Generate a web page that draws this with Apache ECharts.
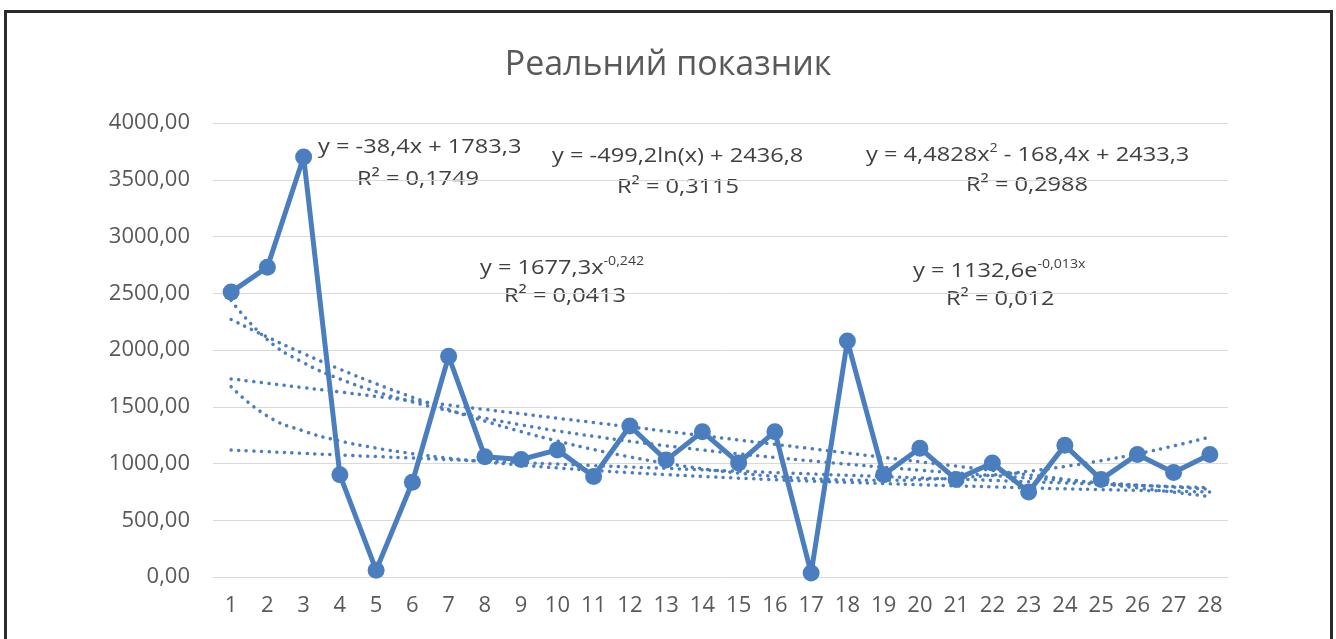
<!DOCTYPE html>
<html>
<head>
<meta charset="utf-8">
<script src="https://cdn.jsdelivr.net/npm/echarts@6/dist/echarts.min.js"></script>
<style>
  html, body { margin: 0; padding: 0; background: #fff; }
  #frame { position: absolute; left: 4px; top: 10px; width: 1323px; height: 640px;
           border-left: 3px solid #2b2b2b; border-top: 3px solid #2b2b2b; border-right: 3px solid #2b2b2b; }
  #chart { position: absolute; left: 0; top: 0; width: 1336px; height: 639px; }
</style>
</head>
<body>
<div id="frame"></div>
<div id="chart"></div>
<script>
const categories = ['1','2','3','4','5','6','7','8','9','10','11','12','13','14','15','16','17','18','19','20','21','22','23','24','25','26','27','28']
const realValues = [2510, 2730, 3700, 900, 60, 835, 1945, 1060, 1035, 1120, 885, 1330, 1030, 1280, 1005, 1280, 35, 2080, 900, 1135, 860, 1005, 750, 1160, 860, 1080, 920, 1080]

// trendline values read at each category (Excel trendlines)
const trendLinear = [1745, 1707, 1668, 1630, 1591, 1553, 1515, 1476, 1438, 1399, 1361, 1323, 1284, 1246, 1207, 1169, 1131, 1092, 1054, 1015, 977, 939, 900, 862, 823, 785, 747, 708]
const trendLog = [2437, 2091, 1888, 1745, 1633, 1542, 1465, 1399, 1340, 1287, 1240, 1196, 1156, 1119, 1085, 1053, 1023, 994, 967, 941, 917, 894, 872, 850, 830, 810, 792, 773]
const trendPower = [1677, 1418, 1286, 1199, 1136, 1087, 1047, 1014, 986, 961, 939, 919, 902, 886, 871, 857, 845, 834, 823, 812, 803, 794, 785, 777, 770, 763, 756, 749]
const trendExp = [1118, 1104, 1089, 1075, 1061, 1048, 1034, 1021, 1008, 995, 982, 969, 957, 944, 932, 920, 908, 896, 885, 873, 862, 851, 840, 829, 818, 808, 797, 787]
const trendPoly = [2269, 2114, 1968, 1831, 1703, 1584, 1474, 1373, 1281, 1198, 1123, 1058, 1002, 954, 916, 887, 866, 855, 852, 858, 874, 898, 932, 974, 1025, 1085, 1155, 1233]

const yMin = 0
const yMax = 4000
const yStep = 500

const blue = '#4a7ebe'
const textColor = '#595959'
const font = '"Open Sans", "Noto Sans", sans-serif'

const chart = echarts.init(document.getElementById('chart'))

const trend = (name, data) => ({
    name: name,
    type: 'line',
    data: data,
    smooth: true,
    symbol: 'none',
    z: 3,
    lineStyle: { color: blue, width: 3.5, type: [0.1, 7.5], cap: 'round' },
    silent: true
})

const eqStyle = { fontSize: 20, fontFamily: font, fill: '#404040' }
const supRich = { sup: { fontSize: 12, fontFamily: font, fill: '#404040', verticalAlign: 'top', padding: [0, 0, 12, 0] } }

// equation boxes, stretched a bit like the original text
const label = (x, y, text) => ({
    type: 'text',
    x: x,
    y: y,
    scaleX: 1.18,
    style: Object.assign({ text: text, rich: supRich }, eqStyle)
})

const option = {
    animation: false,
    backgroundColor: 'transparent',
    title: {
        text: 'Реальний показник',
        left: 'center',
        top: 43,
        textStyle: { fontSize: 34, fontWeight: 'normal', color: textColor, fontFamily: font }
    },
    grid: { left: 213, right: 108, top: 123, bottom: 62 },
    xAxis: {
        type: 'category',
        data: categories,
        boundaryGap: true,
        axisLine: { lineStyle: { color: '#d9d9d9', width: 1 } },
        axisTick: { show: false },
        axisLabel: { color: textColor, fontSize: 22, fontFamily: font, margin: 18, interval: 0 }
    },
    yAxis: {
        type: 'value',
        min: yMin,
        max: yMax,
        interval: yStep,
        axisLine: { show: false },
        axisTick: { show: false },
        splitLine: { lineStyle: { color: '#d9d9d9', width: 1 } },
        axisLabel: {
            color: textColor, fontSize: 22, fontFamily: font, margin: 23,
            formatter: v => v.toFixed(2).replace('.', ',')
        }
    },
    series: [
        {
            name: 'Реальний показник',
            type: 'line',
            data: realValues,
            symbol: 'circle',
            symbolSize: 17,
            z: 2,
            itemStyle: { color: blue },
            lineStyle: { color: blue, width: 5 }
        },
        trend('Лінійна', trendLinear),
        trend('Логарифмічна', trendLog),
        trend('Степенева', trendPower),
        trend('Експоненційна', trendExp),
        trend('Поліноміальна', trendPoly)
    ],
    graphic: [
        label(318, 137, 'y = -38,4x + 1783,3'),
        label(357, 169, 'R² = 0,1749'),
        label(552, 146, 'y = -499,2ln(x) + 2436,8'),
        label(617, 177, 'R² = 0,3115'),
        label(866, 143, 'y = 4,4828x{sup|2} - 168,4x + 2433,3'),
        label(966, 175, 'R² = 0,2988'),
        label(480, 256, 'y = 1677,3x{sup|-0,242}'),
        label(504, 286, 'R² = 0,0413'),
        label(913, 259, 'y = 1132,6e{sup|-0,013x}'),
        label(946, 289, 'R² = 0,012')
    ]
}

chart.setOption(option)
</script>
</body>
</html>
